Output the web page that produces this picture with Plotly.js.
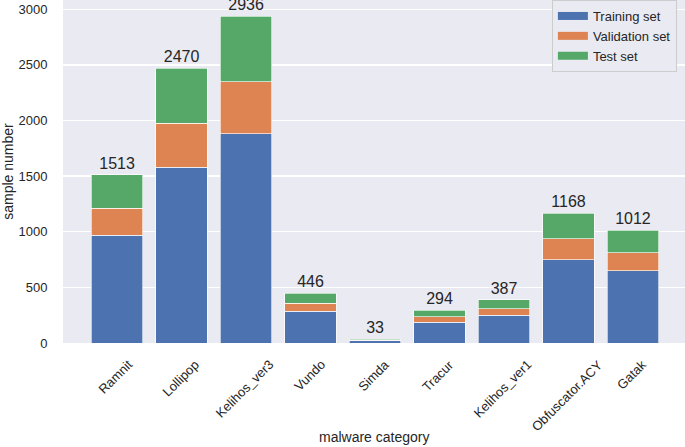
<!DOCTYPE html>
<html>
<head>
<meta charset="utf-8">
<script src="https://cdn.plot.ly/plotly-3.0.1.min.js"></script>
<style>html,body{margin:0;padding:0;background:#fff;}#chart{width:685px;height:447px;}</style>
</head>
<body>
<div id="chart"></div>
<script>
const categories = ['Ramnit','Lollipop','Kelihos_ver3','Vundo','Simda','Tracur','Kelihos_ver1','Obfuscator.ACY','Gatak'];
const trainingSet = [968, 1581, 1879, 285, 21, 188, 248, 748, 648];
const validationSet = [242, 395, 470, 71, 5, 47, 62, 187, 162];
const testSet = [303, 494, 587, 90, 7, 59, 77, 233, 202];
const seriesNames = ['Training set', 'Validation set', 'Test set'];
const yTicks = [0, 500, 1000, 1500, 2000, 2500, 3000];

const colors = ['#4C72B0', '#DD8452', '#55A868'];
const totals = categories.map((c, i) => trainingSet[i] + validationSet[i] + testSet[i]);
const font = 'Liberation Sans, Arial, sans-serif';
const txt = '#262626';

const seriesData = [trainingSet, validationSet, testSet];
const traces = seriesData.map((vals, k) => {
  const t = {
    type: 'bar', x: categories, y: vals, name: seriesNames[k], showlegend: false,
    marker: {color: colors[k], line: {color: 'rgba(255,255,255,0.8)', width: 0.8}},
    hoverinfo: 'x+y+name'
  };
  if (k === 2) {
    t.text = totals.map(String);
    t.textposition = 'outside';
    t.textfont = {size: 16, color: txt, family: font};
    t.cliponaxis = false;
    t.constraintext = 'none';
  }
  return t;
});
// legend swatches
seriesNames.forEach((n, k) => {
  traces.push({type: 'scatter', mode: 'lines', x: [null], y: [null], name: n,
    line: {color: colors[k], width: 8}, showlegend: true, hoverinfo: 'skip'});
});

// rotated category labels, centred under each bar (matplotlib style)
const annotations = categories.map((c, i) => ({
  text: c, xref: 'x', yref: 'paper', x: i - 0.02, y: -0.032,
  xanchor: 'center', yanchor: 'top', textangle: -45, showarrow: false,
  font: {size: 13, color: txt, family: font}
}));
annotations.push({
  text: 'malware category', xref: 'paper', yref: 'paper', x: 0.5, y: -0.274,
  xanchor: 'center', yanchor: 'middle', showarrow: false,
  font: {size: 14, color: txt, family: font}
});

const layout = {
  width: 685, height: 447,
  margin: {l: 63, r: 0, t: 0, b: 104},
  paper_bgcolor: '#ffffff', plot_bgcolor: '#EAEAF2',
  barmode: 'stack', bargap: 0.2,
  font: {family: font, color: txt},
  xaxis: {type: 'category', range: [-0.84, 8.806], showticklabels: false, showgrid: false,
    zeroline: false, ticks: '', showline: false, fixedrange: true},
  yaxis: {range: [0, 3083], tickvals: yTicks, showgrid: true, gridcolor: '#ffffff', gridwidth: 1.3,
    zeroline: false, ticks: 'outside', ticklen: 12, tickcolor: 'rgba(0,0,0,0)',
    tickfont: {size: 13, color: txt, family: font},
    title: {text: 'sample number', font: {size: 14, color: txt, family: font}, standoff: 4}},
  legend: {x: 0.786, y: 1.0, xanchor: 'left', yanchor: 'top', bgcolor: '#EAEAF2',
    bordercolor: '#CCCCCC', borderwidth: 1, font: {size: 13, color: txt, family: font},
    traceorder: 'normal'},
  annotations: annotations,
  showlegend: true
};

Plotly.newPlot('chart', traces, layout, {displayModeBar: false, staticPlot: true});
</script>
</body>
</html>
